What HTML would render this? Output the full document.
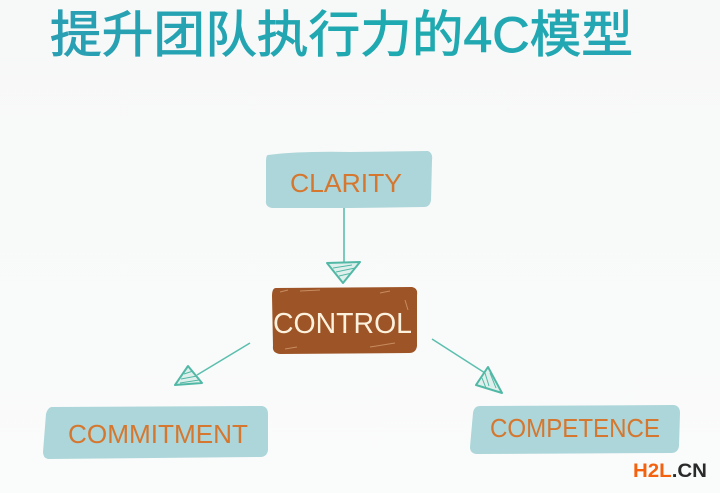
<!DOCTYPE html>
<html><head><meta charset="utf-8"><style>
html,body{margin:0;padding:0;background:#f8f9f9;}
svg{display:block}
</style></head><body>
<svg width="720" height="493" viewBox="0 0 720 493" xmlns="http://www.w3.org/2000/svg">
<defs>
<linearGradient id="bg" x1="0" y1="0" x2="0" y2="1"><stop offset="0" stop-color="#f7f8f8"/><stop offset="1" stop-color="#fafbfb"/></linearGradient>
<linearGradient id="tg" x1="0" y1="0" x2="1" y2="0"><stop offset="0" stop-color="#2a9fb3"/><stop offset="0.6" stop-color="#1eaab0"/><stop offset="1" stop-color="#25a6b4"/></linearGradient>
</defs>
<rect width="720" height="493" fill="url(#bg)"/>
<text x="50" y="52" font-family="'Noto Sans CJK SC','Liberation Sans',sans-serif" font-size="50" fill="url(#tg)" stroke="url(#tg)" stroke-width="0.9" textLength="583" lengthAdjust="spacingAndGlyphs">提升团队执行力的<tspan font-family="'Liberation Sans',sans-serif">4C</tspan>模型</text>

<!-- CLARITY -->
<path d="M268 155 Q300 151 350 152 L428 151 Q433 153 432 160 L431 200 Q430 207 424 207 L350 208 L272 208 Q265 207 266 200 L266 162 Q266 155 268 155Z" fill="#acd6d9"/>
<text x="290" y="192" font-family="'Liberation Sans',sans-serif" font-size="26" fill="#d5772f" textLength="112" lengthAdjust="spacingAndGlyphs">CLARITY</text>

<!-- arrow clarity->control -->
<line x1="344" y1="208" x2="344" y2="263" stroke="#5bbfae" stroke-width="1.6"/>
<path d="M327 263 L360 262 L343 283 Z" fill="#dff0ec" stroke="#52b8a6" stroke-width="2" stroke-linejoin="round"/>
<path d="M333 268 L352 265 M336 272 L355 268 M339 276 L352 273" stroke="#52b8a6" stroke-width="1"/>

<!-- CONTROL -->
<path d="M276 288 L412 287 Q418 288 417 295 L417 346 Q416 353 409 353 L280 354 Q272 353 273 346 L272 296 Q272 288 276 288Z" fill="#9d5426"/>
<path d="M280 292 l8 -2 M300 291 l20 -1 M380 293 l10 -2 M285 349 l12 -2 M370 347 l25 -4 M405 300 l3 10" stroke="#d9a57a" stroke-width="1" opacity="0.7"/>
<text x="273" y="333" font-family="'Liberation Sans',sans-serif" font-size="29" fill="#fcf1dc" textLength="139" lengthAdjust="spacingAndGlyphs">CONTROL</text>

<!-- arrow control->commitment -->
<line x1="250" y1="343" x2="197" y2="375" stroke="#5bbfae" stroke-width="1.5"/>
<path d="M188 366 L175 385 L202 383 Z" fill="#dff0ec" stroke="#52b8a6" stroke-width="2" stroke-linejoin="round"/>
<path d="M184 374 L193 371 M181 379 L197 376 M180 383 L199 380" stroke="#52b8a6" stroke-width="1"/>

<!-- arrow control->competence -->
<line x1="432" y1="339" x2="485" y2="373" stroke="#5bbfae" stroke-width="1.5"/>
<path d="M488 367 L476 385 L502 393 Z" fill="#dff0ec" stroke="#52b8a6" stroke-width="2" stroke-linejoin="round"/>
<path d="M485 373 L489 386 M482 378 L486 388 M490 373 L496 388" stroke="#52b8a6" stroke-width="1"/>

<!-- COMMITMENT -->
<path d="M52 407 L262 406 Q268 407 268 414 L268 450 Q267 457 260 457 L48 459 Q43 458 43 452 L46 414 Q48 407 52 407Z" fill="#acd6d9"/>
<text x="68" y="443" font-family="'Liberation Sans',sans-serif" font-size="26" fill="#d5772f" textLength="180" lengthAdjust="spacingAndGlyphs">COMMITMENT</text>

<!-- COMPETENCE -->
<path d="M480 406 L674 405 Q680 406 680 413 L679 446 Q678 453 671 453 L476 454 Q470 453 470 447 L473 413 Q474 406 480 406Z" fill="#acd6d9"/>
<text x="490" y="437" font-family="'Liberation Sans',sans-serif" font-size="26" fill="#d5772f" textLength="170" lengthAdjust="spacingAndGlyphs">COMPETENCE</text>

<!-- watermark -->
<text x="633" y="477" font-family="'Liberation Sans',sans-serif" font-weight="bold" font-size="19" textLength="74" lengthAdjust="spacingAndGlyphs"><tspan fill="#f4620f">H2L</tspan><tspan fill="#2a2a2a">.CN</tspan></text>
</svg>
</body></html>
